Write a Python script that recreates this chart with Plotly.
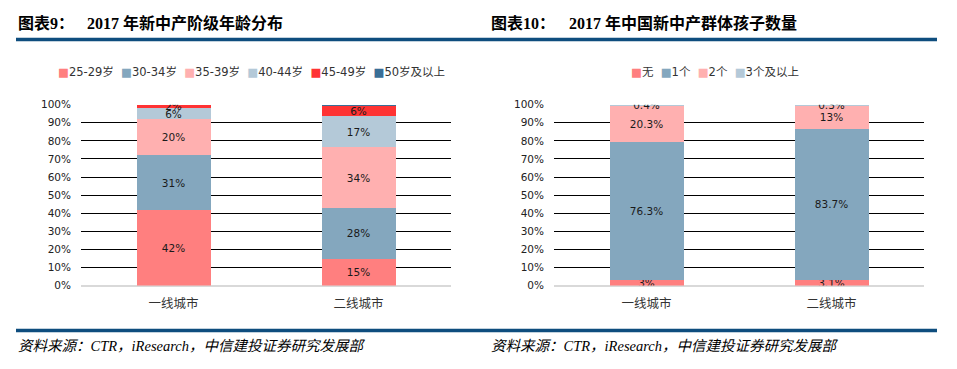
import plotly.graph_objects as go

W, H = 957, 369

# ---------------- data ----------------
cities = ["一线城市", "二线城市"]

age_groups = ["25-29岁", "30-34岁", "35-39岁", "40-44岁", "45-49岁", "50岁及以上"]
age_25_29 = [42, 15]
age_30_34 = [31, 28]
age_35_39 = [20, 34]
age_40_44 = [6, 17]
age_45_49 = [2, 6]
age_50_up = [0, 0.5]

kid_groups = ["无", "1个", "2个", "3个及以上"]
kid_none = [3, 3.1]
kid_one = [76.3, 83.7]
kid_two = [20.3, 13]
kid_three_up = [0.4, 0.3]

y_ticks = [0, 10, 20, 30, 40, 50, 60, 70, 80, 90, 100]
y_tick_labels = [f"{v}%" for v in y_ticks]

title_left_prefix = "图表9："
title_left = "2017 年新中产阶级年龄分布"
title_right_prefix = "图表10："
title_right = "2017 年中国新中产群体孩子数量"
source_text = "资料来源：CTR，iResearch，中信建投证券研究发展部"

# ---------------- style ----------------
age_colors = ["#FF7F7F", "#84A7BE", "#FFB0B0", "#B4C9D8", "#FF3333", "#3A6E96"]
kid_colors = ["#FF7F7F", "#84A7BE", "#FFB0B0", "#B4C9D8"]
FONT = "DejaVu Sans, Noto Sans CJK SC, sans-serif"
SERIF = "Liberation Serif, Noto Sans CJK SC, serif"
RULE = "#0E4D7E"


def px(x):
    return x / W


def py(y):
    return 1 - y / H


fig = go.Figure()

age_series = [age_25_29, age_30_34, age_35_39, age_40_44, age_45_49, age_50_up]
for name, vals, col in zip(age_groups, age_series, age_colors):
    fig.add_trace(go.Bar(
        x=cities, y=vals, name=name, marker=dict(color=col, line=dict(width=0)),
        text=[f"{v:g}%" if v >= 1 else "" for v in vals],
        textposition="inside", insidetextanchor="middle", constraintext="none",
        textfont=dict(family=FONT, size=10.5, color="#1a1a1a"),
        xaxis="x", yaxis="y", showlegend=False, hoverinfo="skip",
    ))

kid_series = [kid_none, kid_one, kid_two, kid_three_up]
for name, vals, col in zip(kid_groups, kid_series, kid_colors):
    fig.add_trace(go.Bar(
        x=cities, y=vals, name=name, marker=dict(color=col, line=dict(width=0)),
        text=[f"{v:g}%" for v in vals],
        textposition="inside", insidetextanchor="middle", constraintext="none",
        textfont=dict(family=FONT, size=10.5, color="#1a1a1a"),
        xaxis="x2", yaxis="y2", showlegend=False, hoverinfo="skip",
    ))

xcommon = dict(showgrid=False, zeroline=False, showline=False, ticks="",
               tickfont=dict(family=FONT, size=12.5, color="#333333"),
               ticklabelstandoff=9, fixedrange=True)
ycommon = dict(range=[0, 100], tickmode="array", tickvals=y_ticks,
               ticktext=y_tick_labels,
               showgrid=True, gridcolor="#000000", gridwidth=1,
               zeroline=True, zerolinecolor="#D9D9D9", zerolinewidth=1.5,
               showline=False, ticks="",
               tickfont=dict(family=FONT, size=10.5, color="#222222"),
               ticklabelstandoff=9, fixedrange=True)

fig.update_layout(
    width=W, height=H, margin=dict(l=0, r=0, t=0, b=0),
    paper_bgcolor="white", plot_bgcolor="white",
    barmode="stack", barnorm="percent", bargap=0.6,
    xaxis=dict(domain=[px(81), px(451)], anchor="y", **xcommon),
    yaxis=dict(domain=[py(289), py(102)], anchor="x", **ycommon),
    xaxis2=dict(domain=[px(554), px(924)], anchor="y2", **xcommon),
    yaxis2=dict(domain=[py(289), py(102)], anchor="x2", **ycommon),
    showlegend=False,
)

# header / footer rules
for yy in (34.5, 335.5):
    fig.add_shape(type="line", xref="paper", yref="paper",
                  x0=px(16), x1=px(937), y0=py(yy), y1=py(yy),
                  line=dict(color=RULE, width=3.5))


def add_text(x, y, text, font, anchor="left"):
    fig.add_annotation(xref="paper", yref="paper", x=px(x), y=py(y), text=text,
                       showarrow=False, xanchor=anchor, yanchor="middle",
                       font=font)


tfont = dict(family=SERIF, size=16, color="#000000", weight="bold")
add_text(16, 18, f"<b>{title_left_prefix}</b>", tfont)
add_text(85, 18, f"<b>{title_left}</b>", tfont)
add_text(489, 18, f"<b>{title_right_prefix}</b>", tfont)
add_text(567, 18, f"<b>{title_right}</b>", tfont)

sfont = dict(family=SERIF, size=14.5, color="#000000", style="italic")
add_text(16, 351, f"<i>{source_text}</i>", sfont)
add_text(489, 351, f"<i>{source_text}</i>", sfont)


def legend_text(names, colors):
    parts = [f"<span style='color:{c}'>■</span>{n}" for n, c in zip(names, colors)]
    return "\u00a0\u00a0".join(parts)


lfont = dict(family=FONT, size=11.5, color="#333333")
add_text(56, 68, legend_text(age_groups, age_colors), lfont)
add_text(629, 68, legend_text(kid_groups, kid_colors), lfont)

fig.write_html("out.html", config={"displayModeBar": False},
               post_script="document.body.style.margin='0';document.body.style.overflow='hidden';")
